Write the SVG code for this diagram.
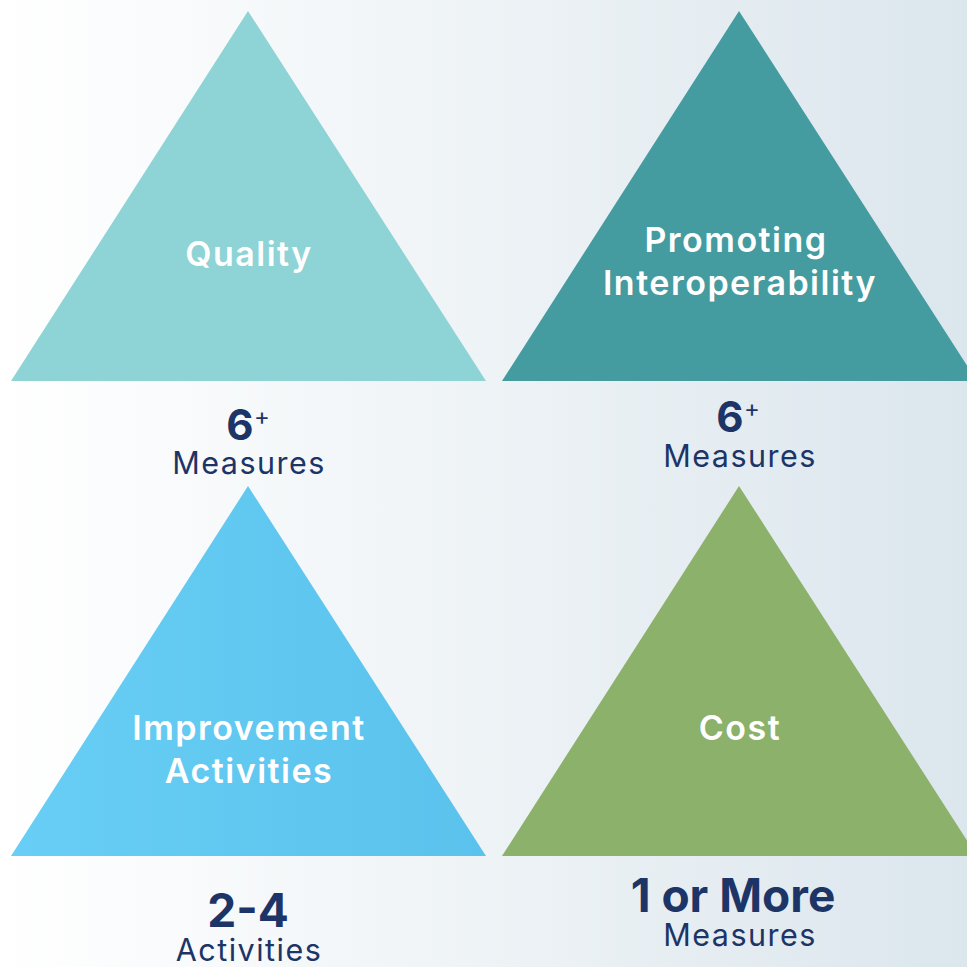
<svg xmlns="http://www.w3.org/2000/svg" width="967" height="967" viewBox="0 0 967 967">
<defs>
<linearGradient id="bg" x1="0" y1="0" x2="1" y2="0">
<stop offset="0" stop-color="#ffffff"/>
<stop offset="0.5" stop-color="#eef3f6"/>
<stop offset="1" stop-color="#dbe6ed"/>
</linearGradient>
<linearGradient id="ia" x1="0" y1="0" x2="1" y2="0">
<stop offset="0" stop-color="#68cef5"/>
<stop offset="1" stop-color="#5ac2ec"/>
</linearGradient>
<style>
.t{font-family:Inter,"Open Sans","Liberation Sans",sans-serif;font-weight:600;fill:#ffffff;text-anchor:middle;font-size:34px;letter-spacing:1.5px}
.n{font-family:Inter,"Open Sans","Liberation Sans",sans-serif;font-weight:700;fill:#1d3566;text-anchor:middle}
.m{font-family:Inter,"Open Sans","Liberation Sans",sans-serif;font-weight:400;fill:#1d3566;text-anchor:middle;font-size:30.5px;letter-spacing:1.5px}
.p{font-family:Inter,"Open Sans","Liberation Sans",sans-serif;font-weight:400;fill:#1d3566;text-anchor:middle;font-size:24px}
</style>
</defs>
<rect width="967" height="967" fill="url(#bg)"/>
<g id="quality">
<polygon points="248,11 486,381 11,381" fill="#8ed3d5"/>
<text class="t" x="249" y="266">Quality</text>
<text class="n" x="240" y="440" font-size="42">6</text>
<text class="p" x="262" y="425">+</text>
<text class="m" x="249" y="474">Measures</text>
</g>
<g id="interoperability">
<polygon points="739,11 977,381 502,381" fill="#449ba0"/>
<text class="t" x="736" y="252">Promoting</text>
<text class="t" x="740" y="295">Interoperability</text>
<text class="n" x="730" y="432" font-size="42">6</text>
<text class="p" x="752" y="417">+</text>
<text class="m" x="740" y="467">Measures</text>
</g>
<g id="improvement">
<polygon points="248,486 486,856 11,856" fill="url(#ia)"/>
<text class="t" x="249" y="740">Improvement</text>
<text class="t" x="249" y="783">Activities</text>
<text class="n" x="248" y="927" font-size="46">2-4</text>
<text class="m" x="249" y="961">Activities</text>
</g>
<g id="cost">
<polygon points="739,486 977,856 502,856" fill="#8bb16a"/>
<text class="t" x="740" y="740">Cost</text>
<text class="n" x="733" y="912" font-size="46">1 or More</text>
<text class="m" x="740" y="946">Measures</text>
</g>
<g id="connectors"/>
</svg>
